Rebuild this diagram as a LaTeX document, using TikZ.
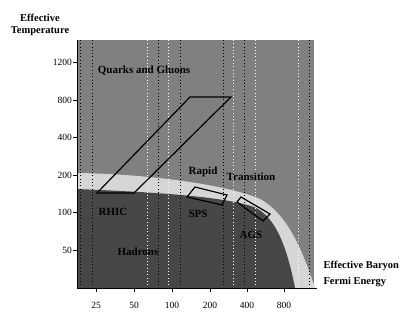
\documentclass[tikz,border=0pt]{standalone}
\usepackage{fontspec}
\setmainfont{Liberation Serif}
\usetikzlibrary{positioning}
\definecolor{qgp}{HTML}{808080}
\definecolor{band}{HTML}{D6D6D6}
\definecolor{hadron}{HTML}{474747}
\tikzset{
    axislabel/.style={font=\bfseries\fontsize{10.5}{12}\selectfont, align=center},
    region/.style={font=\bfseries\fontsize{11}{13}\selectfont, text=black, inner sep=1pt},
    ticklabel/.style={font=\fontsize{9.5}{11}\selectfont, inner sep=1pt},
    window/.style={line width=1.2pt, line join=miter},
    grid/.style={dash pattern=on 0.7pt off 2.6pt, line width=0.7pt}
}
\begin{document}
\begin{tikzpicture}[x=1pt, y=-1pt]
\useasboundingbox (0,0) rectangle (415,321);

% Regions
\fill[qgp] (77,40) rectangle (314,288);
\fill[band] (77,173) .. controls (150,174) and (228,185) .. (260,199)
    .. controls (284,212) and (300,242) .. (315,288) -- (77,288) -- cycle;
\fill[hadron] (77,189) .. controls (150,192) and (222,196) .. (254,207)
    .. controls (274,216) and (286,242) .. (295,288) -- (77,288) -- cycle;

% Dotted grid
\foreach \gx/\gc in {80/black, 92/black, 147/white, 158/black, 168/white, 180/black,
    223/black, 233/white, 244/black, 255/white, 298/white, 309/black}
    \draw[grid, \gc] (\gx,40) -- (\gx,288);

% Axes
\draw[thick] (77,40) -- (77,288) -- (317,288);
\foreach \ty/\tl in {62/1200, 100/800, 137/400, 175/200, 212/100, 250/50}
    \draw (73,\ty) -- (77,\ty) node[ticklabel, left=4pt] {\tl};
\foreach \tx/\tl in {96/25, 134/50, 172/100, 210/200, 247/400, 284/800}
    \draw (\tx,288) -- (\tx,292) node[ticklabel, below=9pt] {\tl};

\node (ylab) [axislabel] at (40,25) {Effective\\Temperature};
\node (xlab) [axislabel, align=left, anchor=west] at (320,274) {Effective Baryon\\[4pt]Fermi Energy};

% Experiment windows
\coordinate (rhicA) at (97,193);
\coordinate (rhicB) at (134,193);
\coordinate (rhicC) at (231,97);
\coordinate (rhicD) at (190,97);
\draw[window] (rhicA) -- (rhicB) -- (rhicC) -- (rhicD) -- cycle;
\draw[window] (187,197) -- (195,187) -- (227,195) -- (222,205) -- cycle;
\draw[window] (237,202) -- (241,197) -- (270,214) -- (263,221) -- cycle;

% Labels
\node (quarks) [region] at (144,71) {Quarks and Gluons};
\node (rapid) [region] at (203,172) {Rapid};
\node (trans) [region] at (251,177) {Transition};
\node (sps) [region] at (198,214) {SPS};
\node (ags) [region] at (251,235) {AGS};
\node (rhic) [region] at (113,212) {RHIC};
\node (hadrons) [region] at (138,252) {Hadrons};

\end{tikzpicture}
\end{document}
